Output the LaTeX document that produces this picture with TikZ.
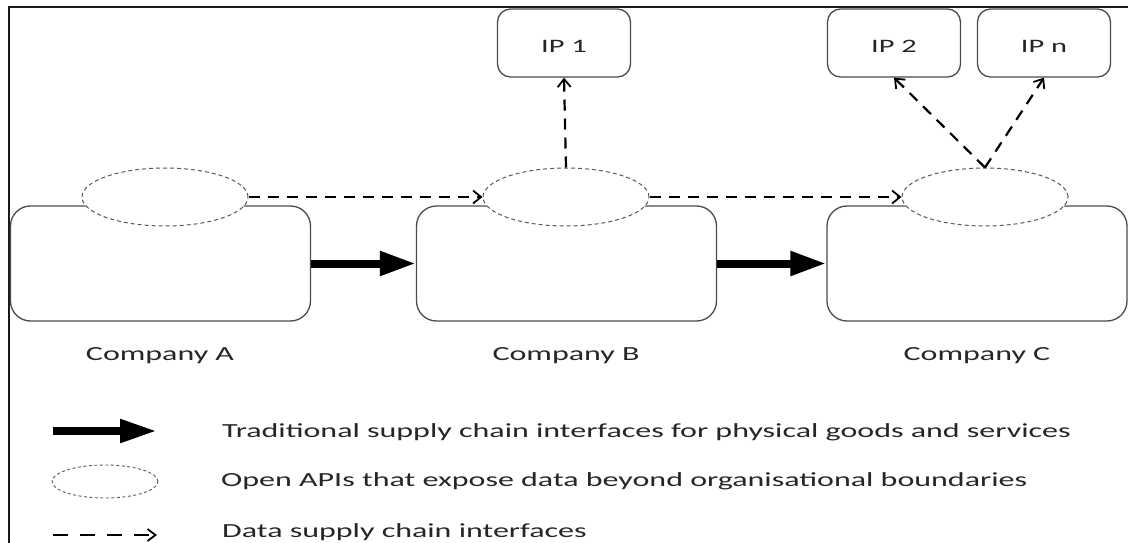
\documentclass[tikz,border=0pt]{standalone}
\usepackage{fontspec}
\setmainfont{Carlito}
\usepackage{graphicx}
\usetikzlibrary{shapes.geometric,arrows.meta}
\newcommand\hstr[1]{\scalebox{1.6}[1]{#1}}
\begin{document}
\begin{tikzpicture}[x=1pt,y=-1pt,
 compbox/.style={draw=black!70, line width=1.3pt, rounded corners=20pt, fill=white, minimum width=300pt, minimum height=115pt, inner sep=0pt},
 ipbox/.style={draw=black!70, line width=1.3pt, rounded corners=13pt, fill=white, minimum width=133pt, minimum height=68pt, inner sep=0pt, text height=20pt, text depth=0pt, font=\fontsize{19}{22}\selectfont, text=black!85},
 api/.style={ellipse, draw=black!65, line width=1pt, dash pattern=on 4pt off 3pt, fill=white, minimum width=166pt, minimum height=58pt, inner sep=0pt},
 physarrow/.style={line width=8pt, -{Triangle[length=36pt,width=23pt]}},
 dataarrow/.style={line width=2.2pt, dash pattern=on 11pt off 8pt, -{Straight Barb[length=8pt,width=13pt,line width=1.8pt]}},
 lbl/.style={font=\fontsize{20}{24}\selectfont, text=black!85, inner sep=0pt},
]
\useasboundingbox (0,0) rectangle (1128,543);
\fill[white] (0,0) rectangle (1128,543);
% frame
\draw[line width=2pt, black!90] (9,543) -- (9,7) -- (1128,7);
% companies
\node[compbox] (A) at (160.5,263.5) {};
\node[compbox] (B) at (566.5,263.5) {};
\node[compbox] (C) at (977,263.5) {};
% information providers
\node[ipbox] (IP1) at (564,43) {\hstr{IP 1}};
\node[ipbox] (IP2) at (894,43) {\hstr{IP 2}};
\node[ipbox] (IPn) at (1044,43) {\hstr{IP n}};
% physical flows
\draw[physarrow] (A.east) -- (B.west);
\draw[physarrow] (B.east) -- (C.west);
% open APIs
\node[api] (eA) at (165,197) {};
\node[api] (eB) at (566,197) {};
\node[api] (eC) at (985,197) {};
% data flows
\draw[dataarrow] (eA.east) -- (eB.west);
\draw[dataarrow] (eB.east) -- (eC.west);
\draw[dataarrow] (eB.north) -- (IP1.south);
\draw[dataarrow] (eC.north) -- (IP2.south);
\draw[dataarrow] (eC.north) -- (IPn.south);
% company labels
\node[lbl, anchor=base] (la) at (160,360) {\hstr{Company A}};
\node[lbl, anchor=base] (lb) at (566,360) {\hstr{Company B}};
\node[lbl, anchor=base] (lc) at (977,360) {\hstr{Company C}};
% legend
\coordinate (l1s) at (53,431);
\coordinate (l1e) at (157,431);
\draw[line width=8pt, -{Triangle[length=37pt,width=22pt]}] (l1s) -- (l1e);
\node[lbl, anchor=base west] (t1) at (222,437) {\hstr{Traditional supply chain interfaces for physical goods and services}};
\node[ellipse, draw=black!65, line width=0.9pt, dash pattern=on 3pt off 2.5pt, minimum width=106pt, minimum height=33pt, inner sep=0pt] (le) at (105,481.5) {};
\node[lbl, anchor=base west] (t2) at (221,486) {\hstr{Open APIs that expose data beyond organisational boundaries}};
\coordinate (l3s) at (53,535);
\coordinate (l3e) at (157,535);
\draw[line width=2pt, dash pattern=on 15pt off 12pt, -{Straight Barb[length=8pt,width=12pt,line width=1.8pt]}] (l3s) -- (l3e);
\node[lbl, anchor=base west] (t3) at (222,537) {\hstr{Data supply chain interfaces}};
\end{tikzpicture}
\end{document}
